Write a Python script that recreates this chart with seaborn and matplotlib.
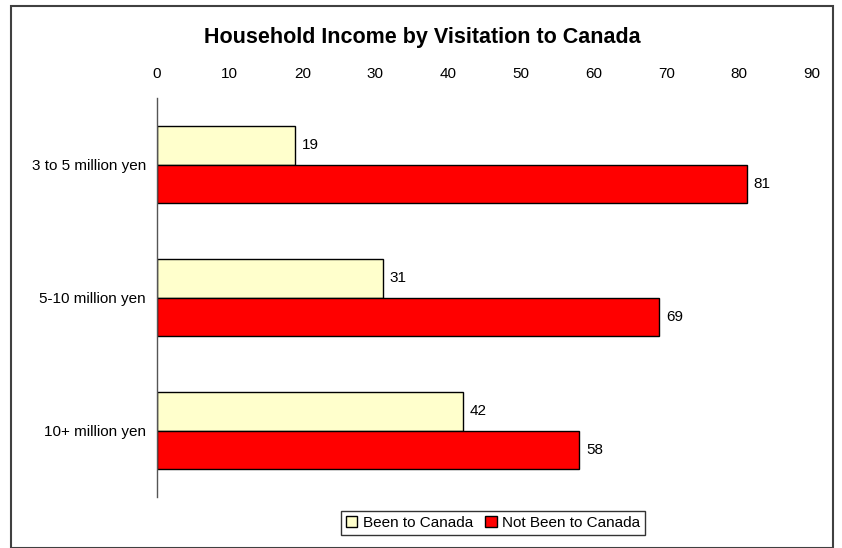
import matplotlib
matplotlib.use("Agg")
import matplotlib.pyplot as plt
from matplotlib.patches import Patch, Rectangle
import pandas as pd
import seaborn as sns

# Share of respondents (%) in each household income band
income_bands = ["3 to 5 million yen", "5-10 million yen", "10+ million yen"]
been_to_canada = [19, 31, 42]
not_been_to_canada = [81, 69, 58]
series_names = ["Been to Canada", "Not Been to Canada"]
series_colors = ["#FFFFCC", "#FF0000"]
x_ticks = [0, 10, 20, 30, 40, 50, 60, 70, 80, 90]

df = pd.DataFrame({
    "band": income_bands * 2,
    "pct": been_to_canada + not_been_to_canada,
    "group": [series_names[0]] * 3 + [series_names[1]] * 3,
})

sns.set_style("white")
plt.rcParams["font.family"] = ["Liberation Sans", "DejaVu Sans"]
plt.rcParams["text.color"] = "black"

W, H = 842, 548
fig = plt.figure(figsize=(W / 100, H / 100), dpi=100)
fig.patch.set_facecolor("white")

# plot area in pixel terms
left, right, top, bottom = 157, 812, 98, 497
ax = fig.add_axes([left / W, 1 - bottom / H, (right - left) / W, (bottom - top) / H])

sns.barplot(
    data=df, y="band", x="pct", hue="group", orient="h",
    order=income_bands, hue_order=series_names,
    palette=series_colors, saturation=1, width=0.58,
    edgecolor="black", linewidth=1, legend=False, ax=ax,
)

for cont in ax.containers:
    ax.bar_label(cont, fmt="%d", padding=5, fontsize=11, color="black")

ax.set_xlim(0, 90)
ax.set_ylim(2.5, -0.5)
ax.set_xticks(x_ticks)
ax.xaxis.tick_top()
ax.tick_params(axis="x", length=0, pad=12, labelsize=11, colors="black")
ax.tick_params(axis="y", length=0, pad=8, labelsize=11, colors="black")
ax.set_xlabel("")
ax.set_ylabel("")
for s in ["top", "right", "bottom"]:
    ax.spines[s].set_visible(False)
ax.spines["left"].set_color("#555555")
ax.spines["left"].set_linewidth(1)
ax.grid(False)

fig.text(422 / W, 1 - 38 / H, "Household Income by Visitation to Canada",
         ha="center", va="center", fontsize=15.5, fontweight="bold",
         color="black")

# outer chart frame
fig.patches.append(Rectangle((11 / W, 0.5 / H), (833 - 11) / W, (548 - 6.5) / H,
                             transform=fig.transFigure, fill=False,
                             edgecolor="#404040", linewidth=1.5))

handles = [Patch(facecolor=c, edgecolor="black", linewidth=1) for c in series_colors]
leg = fig.legend(handles, series_names, loc="center",
                 bbox_to_anchor=(493 / W, 1 - 523 / H), ncol=2,
                 frameon=True, fancybox=False, edgecolor="black",
                 fontsize=11, handlelength=0.75, handleheight=0.75,
                 handletextpad=0.35, columnspacing=0.8, borderpad=0.35,
                 borderaxespad=0)
leg.get_frame().set_linewidth(1)
for t in leg.get_texts():
    t.set_color("black")

fig.savefig("out.png", dpi=100, facecolor="white")
